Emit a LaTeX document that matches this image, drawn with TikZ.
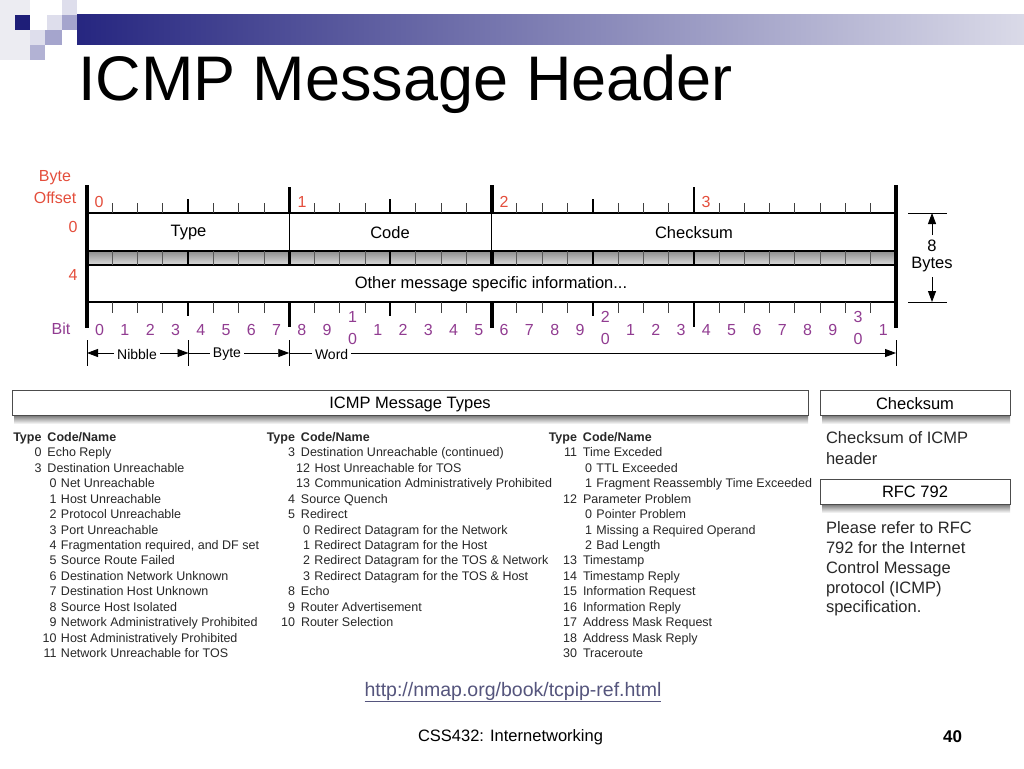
\documentclass[tikz,border=0pt]{standalone}
\usepackage{fontspec}
\setmainfont{Liberation Sans}
\usetikzlibrary{arrows.meta}
\definecolor{offred}{RGB}{228,78,60}
\definecolor{bitpurple}{RGB}{145,60,145}
\definecolor{navy}{RGB}{30,30,120}
\definecolor{barleft}{RGB}{38,38,128}
\definecolor{barright}{RGB}{218,218,232}
\definecolor{sqlight}{RGB}{222,222,236}
\definecolor{sqmid}{RGB}{165,165,205}
\definecolor{sqpale}{RGB}{236,236,242}
\definecolor{linkcol}{RGB}{85,85,125}
\definecolor{txt}{RGB}{40,40,40}
\newcommand\TL[2]{\makebox[30pt][r]{#1}\hspace{6pt}#2}
\newcommand\CL[2]{\hspace{30pt}\makebox[15pt][r]{#1}\hspace{4.5pt}#2}
\begin{document}
\begin{tikzpicture}[x=1pt,y=-1pt,
  every node/.style={inner sep=0pt, outer sep=0pt},
  hdr/.style={font=\fontsize{16.5}{18}\selectfont},
  offlbl/.style={font=\fontsize{16}{18}\selectfont, text=offred},
  bitlbl/.style={font=\fontsize{16}{18}\selectfont, text=bitpurple},
  small/.style={font=\fontsize{14}{16}\selectfont, fill=white, inner xsep=3pt},
  row/.style={font=\fontsize{12.5}{14}\selectfont, text=txt, anchor=base west},
  side/.style={font=\fontsize{16.5}{19}\selectfont, text=txt, anchor=base west},
  arrtip/.style={-{Triangle[length=11pt,width=8pt]}},
  tickthin/.style={line width=0.8pt, draw=black!75},
  bandline/.style={line width=0.8pt, draw=black!65},
  barbox/.style={draw=black!70, line width=0.8pt, fill=white},
]
\useasboundingbox (0,0) rectangle (1024,768);
\fill[white] (0,0) rectangle (1024,768);

% decoration top-left
\fill[sqpale] (0,0) rectangle (30,60);
\shade[left color=barleft, right color=barright] (77,15) rectangle (1024,45);
\fill[navy] (15,15) rectangle (30,30);
\fill[sqlight] (62,0) rectangle (77,15);
\fill[sqlight] (47,15) rectangle (62,30);
\fill[sqmid] (62,15) rectangle (77,30);
\fill[sqlight] (30,30) rectangle (45,45);
\fill[sqmid] (45,30) rectangle (62,45);
\fill[sqmid!85] (30,45) rectangle (45,60);

% title
\node[anchor=base west, font=\fontsize{63}{70}\selectfont] (title) at (78,100) {ICMP Message Header};

% header diagram rows
\draw[line width=1.4pt, fill=white] (87,213) rectangle (896,251);
\shade[top color=black!42, bottom color=black!16] (87,252) rectangle (896,264);
\draw[line width=1.4pt] (87,251) -- (896,251);
\draw[line width=1.4pt, fill=white] (87,265) rectangle (896,302);

% ticks
\foreach \b in {1,2,3,5,6,7,9,10,11,13,14,15,17,18,19,21,22,23,25,26,27,28,29,30,31}{
  \pgfmathsetmacro\xx{87+25.28125*\b}
  \draw[tickthin] (\xx,203) -- (\xx,213);
  \draw[tickthin] (\xx,302) -- (\xx,313);
  \draw[bandline] (\xx,251) -- (\xx,265);
}
\foreach \b in {4,12,20}{
  \pgfmathsetmacro\xx{87+25.28125*\b}
  \draw[line width=2.2pt] (\xx,199) -- (\xx,213);
  \draw[line width=2.2pt] (\xx,302) -- (\xx,316);
  \draw[line width=2.2pt] (\xx,251) -- (\xx,265);
}
\foreach \b in {8,24}{
  \pgfmathsetmacro\xx{87+25.28125*\b}
  \draw[line width=2.5pt] (\xx,187) -- (\xx,213);
  \draw[line width=2.5pt] (\xx,251) -- (\xx,265);
  \draw[line width=2.5pt] (\xx,302) -- (\xx,327);
}
\draw[line width=4pt] (491.5,185) -- (491.5,213);
\draw[line width=4pt] (491.5,251) -- (491.5,265);
\draw[line width=4pt] (491.5,302) -- (491.5,328);
\draw[line width=1pt] (289.25,213) -- (289.25,251);
\draw[line width=1pt] (491.5,213) -- (491.5,251);
\draw[line width=4pt] (87,185) -- (87,328);
\draw[line width=4pt] (896,185) -- (896,328);

% field labels
\node[hdr] (ftype) at (188.5,233) {Type};
\node[hdr] (fcode) at (390,233) {Code};
\node[hdr] (fcks) at (694,233) {Checksum};
\node[hdr] (fother) at (491,284) {Other message specific information...};

% byte offsets
\node[offlbl] (byteA) at (55,178) {Byte};
\node[offlbl] (byteB) at (55,198) {Offset};
\node[offlbl] (o0) at (99,202) {0};
\node[offlbl] (o1) at (302,202) {1};
\node[offlbl] (o2) at (504,202) {2};
\node[offlbl] (o3) at (706,202) {3};
\node[offlbl] (r0) at (73,227) {0};
\node[offlbl] (r4) at (73,275) {4};

% bits
\node[bitlbl] (bitw) at (61,329) {Bit};
\foreach \b in {0,...,31}{
  \pgfmathsetmacro\xx{87+25.28125*(\b+0.5)}
  \pgfmathtruncatemacro\d{mod(\b,10)}
  \pgfmathtruncatemacro\t{(\b-\d)/10}
  \ifnum\d=0
    \ifnum\b>0
      \node[bitlbl] (bt\b) at (\xx,317) {\t};
      \node[bitlbl] (bb\b) at (\xx,339) {0};
    \else
      \node[bitlbl] (b\b) at (\xx,330) {0};
    \fi
  \else
    \node[bitlbl] (b\b) at (\xx,330) {\d};
  \fi
}

% nibble / byte / word
\foreach \x in {87,188.5,289.25,896}{
  \draw[line width=0.9pt] (\x,340) -- (\x,366);
}
\coordinate (m0) at (87,353);
\coordinate (m1) at (188.5,353);
\coordinate (m2) at (289.25,353);
\coordinate (m3) at (896,353);
\node[small] (nib) at (137,354) {Nibble};
\node[small] (byt) at (227,354) {Byte};
\node[small, anchor=west] (wrd) at (312,354) {Word};
\draw[arrtip, line width=0.9pt] (m0 -| nib.west) -- (m0);
\draw[arrtip, line width=0.9pt] (m0 -| nib.east) -- (m1);
\draw[line width=0.9pt] (m1) -- (m1 -| byt.west);
\draw[arrtip, line width=0.9pt] (m1 -| byt.east) -- (m2);
\draw[line width=0.9pt] (m2) -- (m2 -| wrd.west);
\draw[arrtip, line width=0.9pt] (m2 -| wrd.east) -- (m3);

% 8 bytes dimension
\draw[line width=0.9pt] (908,213) -- (947,213);
\draw[line width=0.9pt] (908,302) -- (947,302);
\coordinate (dtop) at (932,213);
\coordinate (dbot) at (932,302);
\node[hdr] (eight) at (932,246) {8};
\node[hdr] (bytes) at (932,265) {Bytes};
\draw[arrtip, line width=0.9pt] ([yshift=5pt]eight.north) -- (dtop);
\draw[arrtip, line width=0.9pt] ([yshift=-5pt]bytes.south) -- (dbot);

% bars
\shade[top color=black!55, bottom color=white] (14,415) rectangle (808,424);
\draw[barbox] (12,390) rectangle (808,415);
\node[hdr] (mtypes) at (410,404) {ICMP Message Types};
\shade[top color=black!55, bottom color=white] (822,415) rectangle (1010,424);
\draw[barbox] (820,390) rectangle (1010,415);
\node[hdr] (ckbar) at (915,404) {Checksum};
\shade[top color=black!55, bottom color=white] (822,504) rectangle (1010,513);
\draw[barbox] (820,479) rectangle (1010,504);
\node[hdr] (rfcbar) at (915,492) {RFC 792};

% right column text
\node[side] (ck1) at (826,443) {Checksum of ICMP};
\node[side] (ck2) at (826,464) {header};
\node[side] (p1) at (826,533) {Please refer to RFC};
\node[side] (p2) at (826,553) {792 for the Internet};
\node[side] (p3) at (826,573) {Control Message};
\node[side] (p4) at (826,593) {protocol (ICMP)};
\node[side] (p5) at (826,612) {specification.};

% type tables
\foreach [count=\i from 0] \txt in {
  {\TL{\bfseries Type}{\bfseries Code/Name}},
  {\TL{0}{Echo Reply}},
  {\TL{3}{Destination Unreachable}},
  {\CL{0}{Net Unreachable}},
  {\CL{1}{Host Unreachable}},
  {\CL{2}{Protocol Unreachable}},
  {\CL{3}{Port Unreachable}},
  {\CL{4}{Fragmentation required, and DF set}},
  {\CL{5}{Source Route Failed}},
  {\CL{6}{Destination Network Unknown}},
  {\CL{7}{Destination Host Unknown}},
  {\CL{8}{Source Host Isolated}},
  {\CL{9}{Network Administratively Prohibited}},
  {\CL{10}{Host Administratively Prohibited}},
  {\CL{11}{Network Unreachable for TOS}}}{
  \node[row] (ca\i) at (11.5,441.5+15.43*\i) {\txt};
}
\foreach [count=\i from 0] \txt in {
  {\TL{\bfseries Type}{\bfseries Code/Name}},
  {\TL{3}{Destination Unreachable (continued)}},
  {\CL{12}{Host Unreachable for TOS}},
  {\CL{13}{Communication Administratively Prohibited}},
  {\TL{4}{Source Quench}},
  {\TL{5}{Redirect}},
  {\CL{0}{Redirect Datagram for the Network}},
  {\CL{1}{Redirect Datagram for the Host}},
  {\CL{2}{Redirect Datagram for the TOS \& Network}},
  {\CL{3}{Redirect Datagram for the TOS \& Host}},
  {\TL{8}{Echo}},
  {\TL{9}{Router Advertisement}},
  {\TL{10}{Router Selection}}}{
  \node[row] (cb\i) at (265,441.5+15.43*\i) {\txt};
}
\foreach [count=\i from 0] \txt in {
  {\TL{\bfseries Type}{\bfseries Code/Name}},
  {\TL{11}{Time Exceded}},
  {\CL{0}{TTL Exceeded}},
  {\CL{1}{Fragment Reassembly Time Exceeded}},
  {\TL{12}{Parameter Problem}},
  {\CL{0}{Pointer Problem}},
  {\CL{1}{Missing a Required Operand}},
  {\CL{2}{Bad Length}},
  {\TL{13}{Timestamp}},
  {\TL{14}{Timestamp Reply}},
  {\TL{15}{Information Request}},
  {\TL{16}{Information Reply}},
  {\TL{17}{Address Mask Request}},
  {\TL{18}{Address Mask Reply}},
  {\TL{30}{Traceroute}}}{
  \node[row] (cc\i) at (547,441.5+15.43*\i) {\txt};
}

% footer
\node[font=\fontsize{19.5}{21}\selectfont, text=linkcol] (link) at (513,692) {\underline{http://nmap.org/book/tcpip-ref.html}};
\node[font=\fontsize{16.5}{18}\selectfont, anchor=west] (course) at (418,737) {CSS432: Internetworking};
\node[font=\fontsize{17}{18}\selectfont\bfseries, anchor=east] (pnum) at (962,737) {40};
\end{tikzpicture}
\end{document}
